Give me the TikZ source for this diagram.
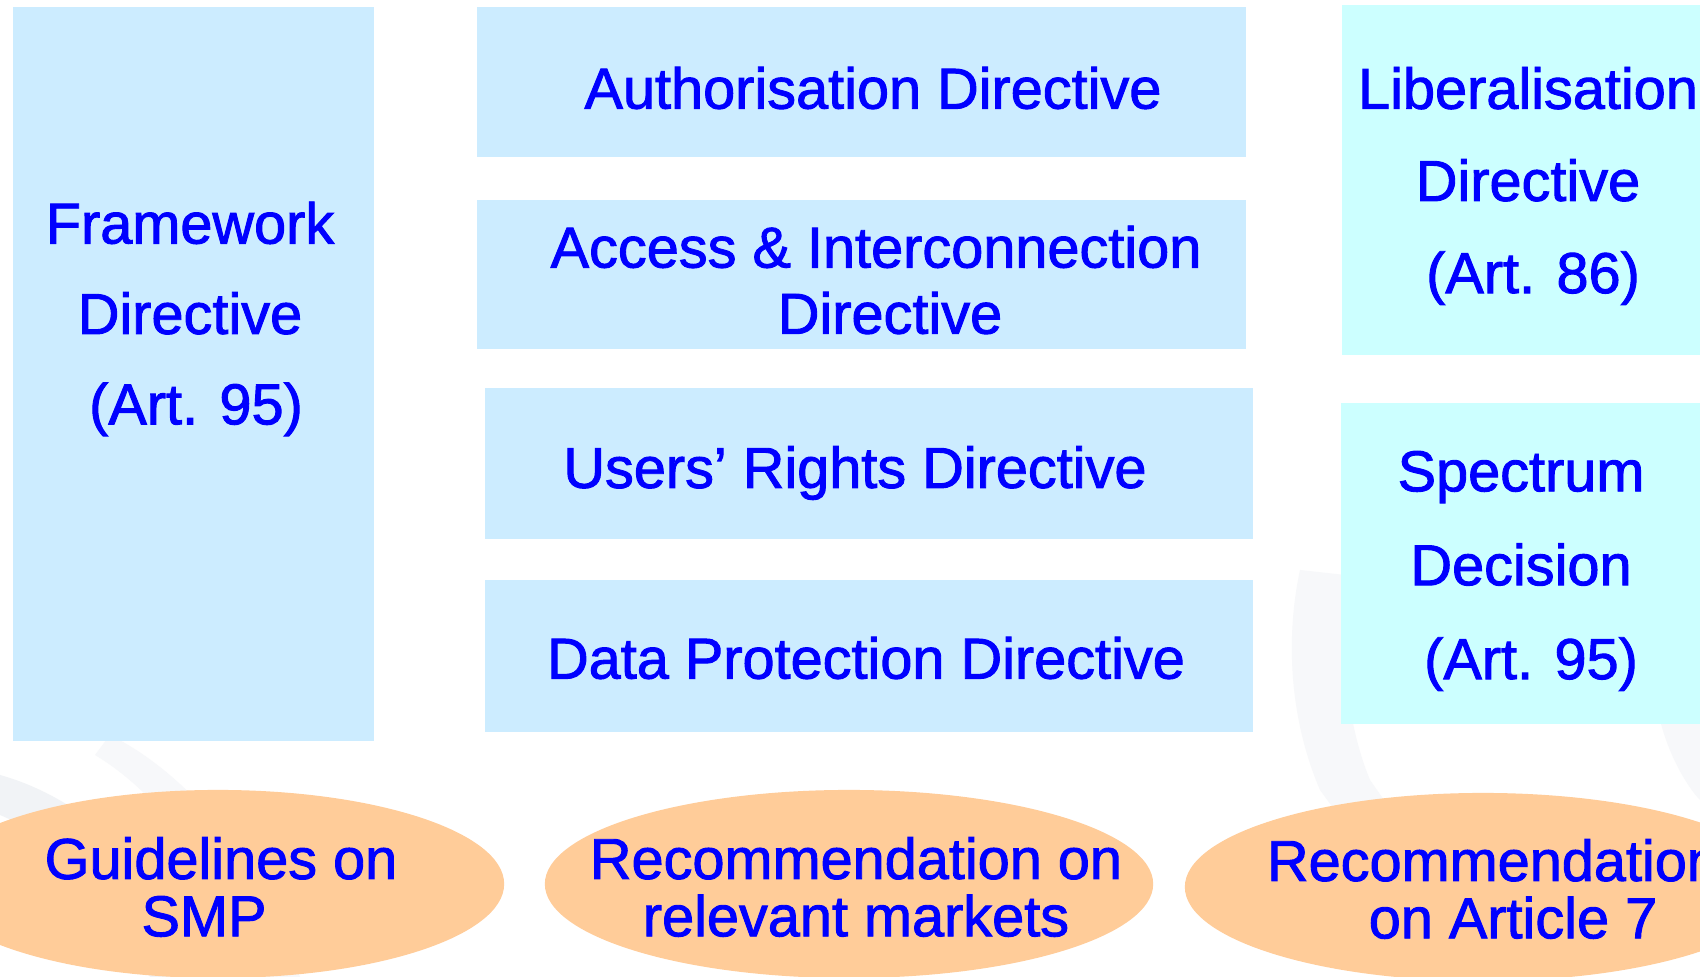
\documentclass[tikz,border=0pt]{standalone}
\usepackage{fontspec}
\setmainfont{Liberation Sans}
\newfontfamily\lblfont{Liberation Sans}[FakeBold=1.6]
\usetikzlibrary{shapes.geometric}
\definecolor{boxblue}{HTML}{CCECFF}
\definecolor{boxcyan}{HTML}{CCFFFF}
\definecolor{ovalfill}{HTML}{FFCC99}
\definecolor{txtblue}{HTML}{0000FF}
\definecolor{ghost}{HTML}{F1F3F6}
\definecolor{ghostlight}{HTML}{F7F8FA}
\begin{document}
\begin{tikzpicture}[x=0.01cm,y=-0.01cm,
  panel/.style={rectangle,draw=none,fill=boxblue,inner sep=0pt},
  cpanel/.style={panel,fill=boxcyan},
  oval/.style={ellipse,draw=none,fill=ovalfill,inner sep=0pt,minimum height=1.88cm},
  label/.style={text=txtblue,align=center,inner sep=0pt,font=\lblfont\fontsize{16.4pt}{26.2pt}\selectfont},
  olabel/.style={label,font=\lblfont\fontsize{16.4pt}{16.3pt}\selectfont},
  slabel/.style={label,font=\lblfont\fontsize{16.4pt}{18.8pt}\selectfont}]
\useasboundingbox (0,0) rectangle (1700,977);
\clip (0,0) rectangle (1700,977);
\fill[white] (0,0) rectangle (1700,977);
% faint background swooshes
\fill[ghost] (0,775) .. controls (90,800) and (170,880) .. (215,977) -- (150,977) .. controls (110,890) and (60,840) .. (0,815) -- cycle;
\fill[ghostlight] (110,735) .. controls (200,780) and (270,880) .. (300,977) -- (255,977) .. controls (225,890) and (170,800) .. (95,755) -- cycle;
\fill[ghostlight] (1300,570) .. controls (1285,640) and (1290,720) .. (1320,790) -- (1400,900) -- (1440,880) -- (1370,780) .. controls (1345,720) and (1340,640) .. (1345,575) -- cycle;
\fill[ghostlight] (1660,720) .. controls (1670,760) and (1690,790) .. (1700,800) -- (1700,720) -- cycle;
% boxes
\node[panel,minimum width=3.61cm,minimum height=7.34cm] (fw) at (193.5,374) {};
\node[panel,minimum width=7.69cm,minimum height=1.50cm] (auth) at (861.5,82) {};
\node[panel,minimum width=7.69cm,minimum height=1.49cm] (acc) at (861.5,274.5) {};
\node[panel,minimum width=7.68cm,minimum height=1.51cm] (usr) at (869,463.5) {};
\node[panel,minimum width=7.68cm,minimum height=1.52cm] (dat) at (869,656) {};
\node[cpanel,minimum width=3.78cm,minimum height=3.50cm] (lib) at (1531,180) {};
\node[cpanel,minimum width=3.79cm,minimum height=3.21cm] (spec) at (1530.5,563.5) {};
% ovals
\node[oval,minimum width=5.72cm] (e1) at (218,884) {};
\node[oval,minimum width=6.08cm] (e2) at (849,884) {};
\node[oval,minimum width=5.96cm] (e3) at (1483,887) {};
% texts
\node[label,font=\lblfont\fontsize{16.4pt}{25.7pt}\selectfont] (fwt) at (190,319) {Framework\\Directive\\\hspace*{0.12cm}(Art. 95)};
\node[label] (autht) at (873,88) {Authorisation Directive};
\node[slabel] (acct) at (876,280) {Access \& Interconnection\\\hspace*{0.28cm}Directive};
\node[label] (usrt) at (855,473) {Users’ Rights Directive};
\node[label] (datt) at (866,658) {Data Protection Directive};
\node[label] (libt) at (1528,186) {Liberalisation\\Directive\\\hspace*{0.1cm}(Art. 86)};
\node[label,font=\lblfont\fontsize{16.4pt}{26.7pt}\selectfont] (spect) at (1521,571) {Spectrum\\Decision\\\hspace*{0.2cm}(Art. 95)};
\node[olabel] (e1t) at (221,887) {Guidelines on\\\hspace*{-0.34cm}SMP};
\node[olabel] (e2t) at (856,887) {Recommendation on\\relevant markets};
\node[olabel] (e3t) at (1503,889) {Recommendation\hspace*{0.2cm}\\\hspace*{0.2cm}on Article 7};
\end{tikzpicture}
\end{document}
